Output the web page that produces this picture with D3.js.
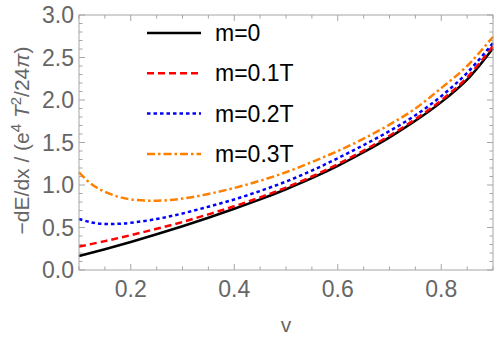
<!DOCTYPE html>
<html>
<head>
<meta charset="utf-8">
<script src="https://cdn.jsdelivr.net/npm/d3@7"></script>
<style>
  body { margin: 0; background: #fff; }
  svg { font-family: "Liberation Sans", Arial, sans-serif; }
</style>
</head>
<body>
<div id="graph"></div>
<script>
// data
const vBlack = [0.1, 0.15, 0.2, 0.25, 0.3, 0.35, 0.4, 0.45, 0.5, 0.55, 0.6, 0.65, 0.7, 0.75, 0.8, 0.85, 0.9];
const m0 = [0.165, 0.245, 0.33, 0.42, 0.515, 0.615, 0.72, 0.83, 0.95, 1.08, 1.225, 1.385, 1.56, 1.755, 1.975, 2.24, 2.61];
const m01 = [0.275, 0.34, 0.41, 0.485, 0.565, 0.655, 0.75, 0.855, 0.97, 1.1, 1.245, 1.405, 1.58, 1.775, 1.995, 2.265, 2.635];
const vLow = [0.1, 0.12, 0.14, 0.16, 0.18, 0.2, 0.25, 0.3, 0.35, 0.4, 0.45, 0.5, 0.55, 0.6, 0.65, 0.7, 0.75, 0.8, 0.85, 0.9];
const m02 = [0.6, 0.565, 0.545, 0.54, 0.545, 0.555, 0.6, 0.665, 0.745, 0.83, 0.93, 1.04, 1.17, 1.315, 1.47, 1.635, 1.82, 2.045, 2.32, 2.67];
const m03 = [1.15, 1.03, 0.95, 0.895, 0.855, 0.83, 0.815, 0.84, 0.895, 0.965, 1.05, 1.15, 1.27, 1.4, 1.545, 1.71, 1.9, 2.14, 2.4, 2.745];

const xMajor = [0.2, 0.4, 0.6, 0.8];
const yMajor = [0.0, 0.5, 1.0, 1.5, 2.0, 2.5, 3.0];
const legendLabels = ["m=0", "m=0.1T", "m=0.2T", "m=0.3T"];

const series = [
  { xs: vBlack, ys: m0, color: "#000000", dash: null },
  { xs: vBlack, ys: m01, color: "#ff0000", dash: "7,4" },
  { xs: vLow, ys: m02, color: "#0000ff", dash: "3.5,3" },
  { xs: vLow, ys: m03, color: "#ff8000", dash: "8,3,2.5,3" }
];

const W = 500, H = 343;
const margin = { top: 15, right: 7, bottom: 73, left: 79 },
  width = W - margin.left - margin.right,
  height = H - margin.top - margin.bottom;

const svg = d3.select("#graph").append("svg")
  .attr("width", W).attr("height", H);

const g = svg.append("g")
  .attr("transform", "translate(" + margin.left + "," + margin.top + ")");

const x = d3.scaleLinear().domain([0.1, 0.9]).range([0, width]);
const y = d3.scaleLinear().domain([0, 3]).range([height, 0]);

const frameColor = "#a6a6a6";
const labelColor = "#666666";

// minor/major ticks on all four sides, pointing inward
const xMinor = d3.range(0.1, 0.9001, 0.05).map(d => +d.toFixed(2));
const yMinor = d3.range(0, 3.0001, 0.1).map(d => +d.toFixed(2));
const isMajX = d => xMajor.some(m => Math.abs(m - d) < 1e-6);
const isMajY = d => yMajor.some(m => Math.abs(m - d) < 1e-6);

const ticks = g.append("g").attr("stroke", frameColor).attr("stroke-width", 1);
xMinor.forEach(d => {
  const len = isMajX(d) ? 6 : 3.5;
  ticks.append("line").attr("x1", x(d)).attr("x2", x(d)).attr("y1", height).attr("y2", height - len);
  ticks.append("line").attr("x1", x(d)).attr("x2", x(d)).attr("y1", 0).attr("y2", len);
});
yMinor.forEach(d => {
  const len = isMajY(d) ? 6 : 3.5;
  ticks.append("line").attr("x1", 0).attr("x2", len).attr("y1", y(d)).attr("y2", y(d));
  ticks.append("line").attr("x1", width).attr("x2", width - len).attr("y1", y(d)).attr("y2", y(d));
});

// curves
const line = d3.line().curve(d3.curveCatmullRom.alpha(0.5));
const plot = g.append("g");
series.forEach(s => {
  const pts = s.xs.map((v, i) => [x(v), y(s.ys[i])]);
  plot.append("path")
    .attr("d", line(pts))
    .attr("fill", "none")
    .attr("stroke", s.color)
    .attr("stroke-width", 2.5)
    .attr("stroke-dasharray", s.dash);
});

// frame
g.append("rect")
  .attr("width", width).attr("height", height)
  .attr("fill", "none").attr("stroke", frameColor).attr("stroke-width", 1);

// tick labels
g.selectAll(".xl").data(xMajor).enter().append("text")
  .attr("x", d => x(d)).attr("y", height + 27)
  .attr("text-anchor", "middle").attr("fill", labelColor)
  .attr("font-size", 23).text(d => d.toFixed(1));
g.selectAll(".yl").data(yMajor).enter().append("text")
  .attr("x", -5).attr("y", d => y(d) + 8)
  .attr("text-anchor", "end").attr("fill", labelColor)
  .attr("font-size", 23).text(d => d.toFixed(1));

// axis labels
g.append("text")
  .attr("x", width / 2).attr("y", height + 62)
  .attr("text-anchor", "middle").attr("fill", labelColor)
  .attr("font-size", 21).text("v");

const yl = svg.append("text")
  .attr("transform", "translate(29," + (margin.top + height / 2 - 2) + ") rotate(-90)")
  .attr("text-anchor", "middle").attr("fill", labelColor)
  .attr("font-size", 21);
yl.append("tspan").text("\u2212dE/dx / (e");
yl.append("tspan").attr("font-size", 15).attr("dy", -8).text("4");
yl.append("tspan").attr("dy", 8).text(" ");
yl.append("tspan").attr("font-style", "italic").text("T");
yl.append("tspan").attr("font-size", 15).attr("dy", -8).text("2");
yl.append("tspan").attr("dy", 8).text("/24");
yl.append("tspan").attr("font-style", "italic").text("\u03c0");
yl.append("tspan").text(")");

// legend
const leg = svg.append("g");
legendLabels.forEach((lab, i) => {
  const ly = 33 + i * 40.3;
  leg.append("line")
    .attr("x1", 147).attr("x2", 201).attr("y1", ly).attr("y2", ly)
    .attr("stroke", series[i].color).attr("stroke-width", 2.5)
    .attr("stroke-dasharray", series[i].dash);
  leg.append("text")
    .attr("x", 215).attr("y", ly + 8)
    .attr("font-size", 23).attr("fill", "#000")
    .text(lab);
});
</script>
</body>
</html>
